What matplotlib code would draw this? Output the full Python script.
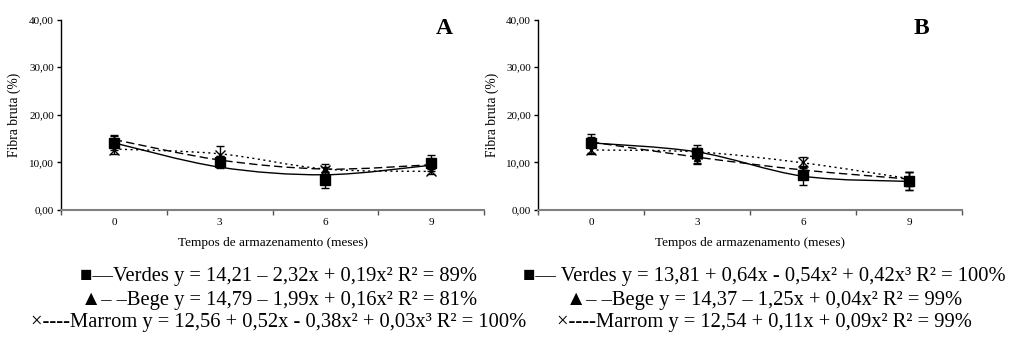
import matplotlib.pyplot as plt
from matplotlib.path import Path
from matplotlib.patches import PathPatch

plt.rcParams['font.family'] = ['Liberation Serif', 'DejaVu Serif']

# Tempos de armazenamento (meses)
meses = [0, 3, 6, 9]

# Painel A - médias observadas e desvios
verdes_A = [14.0, 10.1, 6.3, 9.8]
verdes_A_err = [1.5, 1.3, 1.7, 1.7]
bege_A = [14.8, 10.3, 8.6, 9.8]
bege_A_err = [1.0, 1.0, 1.0, 1.0]
marrom_A = [12.6, 11.6, 8.5, 8.1]
marrom_A_err = [0.8, 1.9, 0.6, 0.6]

# Painel A - curvas ajustadas
verdes_A_fit = [14.1, 9.0, 7.4, 9.4]
bege_A_fit = [14.8, 10.5, 8.6, 9.5]
marrom_A_fit = [12.8, 11.8, 8.6, 8.1]

# Painel B - médias observadas e desvios
verdes_B = [14.0, 12.0, 7.3, 6.0]
verdes_B_err = [2.0, 1.0, 2.0, 1.9]
bege_B = [14.4, 11.0, 8.0, 6.5]
bege_B_err = [1.0, 1.4, 1.0, 1.5]
marrom_B = [12.5, 11.8, 10.0, 6.0]
marrom_B_err = [0.8, 1.9, 1.2, 1.9]

# Painel B - curvas ajustadas
verdes_B_fit = [14.1, 12.2, 7.1, 6.0]
bege_B_fit = [14.3, 11.1, 8.4, 6.5]
marrom_B_fit = [12.6, 12.2, 9.9, 6.6]

yticks = [0, 10, 20, 30, 40]
ytick_labels = ["0,00", "10,00", "20,00", "30,00", "40,00"]

equacoes_A = [
    "■—Verdes y = 14,21 – 2,32x + 0,19x² R² = 89%",
    "▲– –Bege y = 14,79 – 1,99x + 0,16x² R² = 81%",
    "×----Marrom y = 12,56 + 0,52x - 0,38x² + 0,03x³ R² = 100%",
]
equacoes_B = [
    "■— Verdes y = 13,81 + 0,64x - 0,54x² + 0,42x³ R² = 100%",
    "▲– –Bege y = 14,37 – 1,25x + 0,04x² R² = 99%",
    "×----Marrom y = 12,54 + 0,11x + 0,09x² R² = 99%",
]


def smooth_line(ax, xs, ys, **kw):
    # linha suavizada (Bezier) passando pelos pontos, como no Excel
    n = len(xs)
    verts = [(xs[0], ys[0])]
    codes = [Path.MOVETO]
    for i in range(n - 1):
        p0 = (xs[max(i - 1, 0)], ys[max(i - 1, 0)])
        p1 = (xs[i], ys[i])
        p2 = (xs[i + 1], ys[i + 1])
        p3 = (xs[min(i + 2, n - 1)], ys[min(i + 2, n - 1)])
        c1 = (p1[0] + (p2[0] - p0[0]) / 6, p1[1] + (p2[1] - p0[1]) / 6)
        c2 = (p2[0] - (p3[0] - p1[0]) / 6, p2[1] - (p3[1] - p1[1]) / 6)
        verts += [c1, c2, p2]
        codes += [Path.CURVE4] * 3
    ax.add_patch(PathPatch(Path(verts, codes), fill=False, **kw))


def draw_panel(ax, letra, dados):
    (v, ve, b, be, m, me, vf, bf, mf) = dados
    smooth_line(ax, meses, vf, color="black", lw=1.0, ls="-")
    smooth_line(ax, meses, bf, color="black", lw=1.0, ls=(0, (6, 3)))
    smooth_line(ax, meses, mf, color="black", lw=1.0, ls=(0, (1.5, 2.5)))

    ax.errorbar(meses, b, yerr=be, fmt="^", color="black", ms=5,
                capsize=3, elinewidth=1, capthick=1)
    ax.errorbar(meses, v, yerr=ve, fmt="s", color="black", ms=6.5,
                capsize=3, elinewidth=1, capthick=1)
    ax.errorbar(meses, m, yerr=me, fmt="x", color="black", ms=7, mew=1,
                capsize=3, elinewidth=1, capthick=1)

    ax.set_xlim(-1.5, 10.5)
    ax.set_ylim(0, 40)
    ax.set_yticks(yticks)
    ax.set_yticklabels(ytick_labels)
    ax.set_xticks(meses)
    ax.set_xticks([-1.5, 1.5, 4.5, 7.5, 10.5], minor=True)
    ax.tick_params(axis="x", which="major", length=0, labelsize=8, pad=6)
    ax.tick_params(axis="x", which="minor", length=3.5, width=1, color="#555555")
    ax.tick_params(axis="y", length=3, width=1, labelsize=8, pad=2)

    ax.spines["top"].set_visible(False)
    ax.spines["right"].set_visible(False)
    ax.spines["bottom"].set_color("#808080")
    ax.spines["bottom"].set_linewidth(1.5)
    ax.spines["left"].set_linewidth(1.0)

    ax.set_xlabel("Tempos de armazenamento (meses)", fontsize=9.5, labelpad=7)
    ax.text(0.905, 0.955, letra, transform=ax.transAxes, fontsize=17,
            fontweight="bold", ha="center", va="center")


fig = plt.figure(figsize=(10.13, 3.38), dpi=100)

axA = fig.add_axes([61 / 1013, 128 / 338, 423 / 1013, 190.5 / 338])
draw_panel(axA, "A", (verdes_A, verdes_A_err, bege_A, bege_A_err,
                      marrom_A, marrom_A_err, verdes_A_fit, bege_A_fit, marrom_A_fit))
fig.text(14 / 1013, 1 - 115 / 338, "Fibra bruta (%)", rotation=90,
         ha="center", va="center", fontsize=9.8)

axB = fig.add_axes([538 / 1013, 128 / 338, 424 / 1013, 190.5 / 338])
draw_panel(axB, "B", (verdes_B, verdes_B_err, bege_B, bege_B_err,
                      marrom_B, marrom_B_err, verdes_B_fit, bege_B_fit, marrom_B_fit))
fig.text(492 / 1013, 1 - 115 / 338, "Fibra bruta (%)", rotation=90,
         ha="center", va="center", fontsize=9.8)

# Equações de regressão
linhas_y = [277, 300, 322]
for texto, y in zip(equacoes_A, linhas_y):
    fig.text(279 / 1013, 1 - y / 338, texto, ha="center", va="center", fontsize=14.8)
for texto, y in zip(equacoes_B, linhas_y):
    fig.text(764 / 1013, 1 - y / 338, texto, ha="center", va="center", fontsize=14.8)

fig.savefig("out.png", dpi=100)
